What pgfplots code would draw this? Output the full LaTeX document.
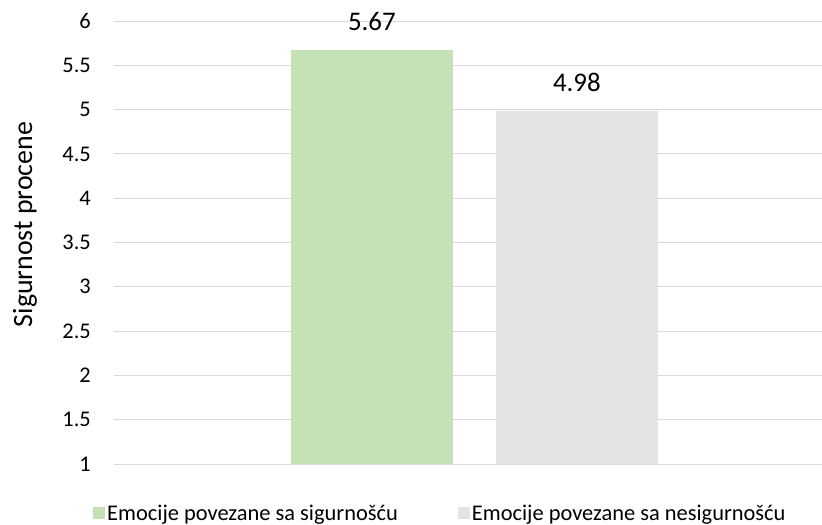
\documentclass[border=0pt]{standalone}
\usepackage{pgfplots}
\pgfplotsset{compat=1.18}
\usepackage{fontspec}
\setmainfont{Carlito}
\definecolor{barGreen}{HTML}{C5E0B4}
\definecolor{barGray}{HTML}{E4E4E4}
\definecolor{gridGray}{HTML}{D9D9D9}
\begin{document}
\begin{tikzpicture}
\begin{axis}[
  scale only axis,
  width=708bp, height=443bp,
  xmin=0, xmax=1,
  ymin=1, ymax=6,
  ytick={1,1.5,...,6},
  xtick=\empty,
  ymajorgrids,
  grid style={gridGray, line width=1bp},
  axis line style={draw=none},
  major tick length=0pt,
  /pgf/number format/assume math mode=true,
  yticklabel style={font=\fontsize{22.5}{26}\selectfont, anchor=east, inner sep=0pt, xshift=-23bp},
  ylabel={Sigurnost procene},
  ylabel style={font=\fontsize{28}{32}\selectfont, at={(rel axis cs:0,0.5)}, anchor=center, yshift=89bp, xshift=18bp},
  ybar=43bp,
  bar width=0.2288,
  nodes near coords,
  nodes near coords style={font=\fontsize{27}{32}\selectfont, /pgf/number format/fixed, /pgf/number format/precision=2, /pgf/number format/fixed zerofill, /pgf/number format/assume math mode=true, yshift=16bp},
  legend columns=2,
  legend style={draw=none, fill=none, font=\fontsize{22.5}{26}\selectfont, at={(rel axis cs:0.461,-0.111)}, anchor=center, /tikz/every even column/.append style={column sep=58bp}},
  legend image code/.code={\fill[#1] (-8bp,-6bp) rectangle (4bp,6bp);},
]
\addplot[fill=barGreen, draw=none] coordinates {(0.509,5.67)};
\addlegendentry{Emocije povezane sa sigurnošću}
\addplot[fill=barGray, draw=none] coordinates {(0.509,4.98)};
\addlegendentry{Emocije povezane sa nesigurnošću}
\end{axis}
\pgfresetboundingbox
\path[use as bounding box] (-114bp,-61bp) rectangle (708bp,464bp);
\end{tikzpicture}
\end{document}
